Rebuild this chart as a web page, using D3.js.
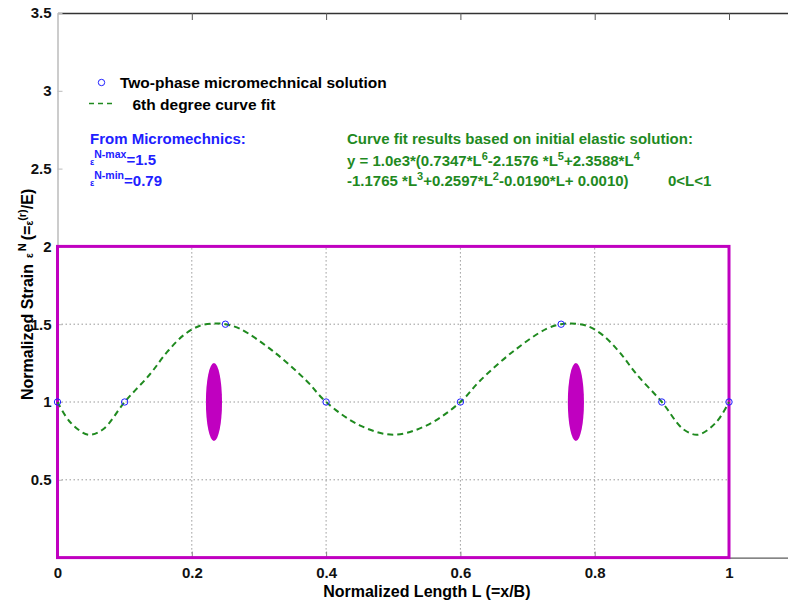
<!DOCTYPE html>
<html>
<head>
<meta charset="utf-8">
<script src="https://cdn.jsdelivr.net/npm/d3@7"></script>
<style>
  body { margin: 0; background: #fff; }
  svg { display: block; font-family: "Liberation Sans", Arial, sans-serif; font-weight: bold; }
</style>
</head>
<body>
<script>
// Micromechanical solution points
const pointL = [0, 0.1, 0.25, 0.4, 0.6, 0.75, 0.9, 1];
const pointY = [1, 1, 1.5, 1, 1, 1.5, 1, 1];

// 6th degree curve fit
const fitL = [0, 0.019, 0.046, 0.068, 0.1, 0.138, 0.163, 0.188, 0.212, 0.235, 0.25, 0.272, 0.32, 0.37, 0.4, 0.45, 0.5,
  0.55, 0.6, 0.63, 0.68, 0.728, 0.75, 0.765, 0.788, 0.812, 0.837, 0.862, 0.9, 0.932, 0.954, 0.981, 1];
const fitY = [1, 0.87, 0.79, 0.825, 1, 1.18, 1.32, 1.43, 1.49, 1.505, 1.5, 1.47, 1.33, 1.14, 1, 0.85, 0.79,
  0.85, 1, 1.14, 1.33, 1.47, 1.5, 1.505, 1.49, 1.43, 1.32, 1.18, 1, 0.825, 0.79, 0.87, 1];

// magenta ellipses (centre and half sizes in data units)
const ellipseL = [0.233, 0.772];
const ellipseY = [1, 1];
const ellipseRL = [0.012, 0.012];
const ellipseRY = [0.25, 0.25];

// highlighted box
const boxL = [0, 1];
const boxY = [0, 2];

const xTicks = [0, 0.2, 0.4, 0.6, 0.8, 1];
const xTickLabels = ["0", "0.2", "0.4", "0.6", "0.8", "1"];
const yTicks = [0.5, 1, 1.5, 2, 2.5, 3, 3.5];
const yTickLabels = ["0.5", "1", "1.5", "2", "2.5", "3", "3.5"];

const width = 788, height = 602;
const magenta = "#c000c0", green = "#1f8a1f", blue = "#2020ff";

const svg = d3.select("body").append("svg")
  .attr("width", width)
  .attr("height", height);

const x = d3.scaleLinear().domain([0, 1.1]).range([57.5, 57.5 + 671.5 * 1.1]);
const y = d3.scaleLinear().domain([0, 3.5]).range([557.6, 13]);

// grid lines, only inside the box
const grid = svg.append("g").attr("stroke", "#999").attr("stroke-dasharray", "1.5,2.5").attr("stroke-width", 1);
grid.selectAll("line.gx").data([0.2, 0.4, 0.6, 0.8]).enter().append("line")
  .attr("x1", d => x(d)).attr("x2", d => x(d))
  .attr("y1", y(0)).attr("y2", y(2));
grid.selectAll("line.gy").data([0.5, 1, 1.5]).enter().append("line")
  .attr("x1", x(0)).attr("x2", x(1))
  .attr("y1", d => y(d)).attr("y2", d => y(d));

// axes
const xAxis = svg.append("g")
  .attr("transform", `translate(0,${y(0)})`)
  .call(d3.axisBottom(x).tickValues(xTicks).tickFormat((d, i) => xTickLabels[i])
    .tickSizeInner(-6).tickSizeOuter(0).tickPadding(10));
xAxis.select(".domain").attr("stroke", "#333");
xAxis.selectAll(".tick line").attr("stroke", "#888");
xAxis.selectAll(".tick text").attr("font-size", 15).attr("fill", "#111").attr("font-family", null);

const topAxis = svg.append("g")
  .attr("transform", `translate(0,${y(3.5)})`)
  .call(d3.axisTop(x).tickValues([0.2, 0.4, 0.6, 0.8, 1]).tickFormat("")
    .tickSizeInner(-7).tickSizeOuter(0));
topAxis.select(".domain").attr("stroke", "#333").attr("stroke-width", 1.5);
topAxis.selectAll(".tick line").attr("stroke", "#555");

const yAxis = svg.append("g")
  .attr("transform", `translate(${x(0)},0)`)
  .call(d3.axisLeft(y).tickValues(yTicks).tickFormat((d, i) => yTickLabels[i])
    .tickSizeInner(-5).tickSizeOuter(0).tickPadding(6));
yAxis.select(".domain").attr("stroke", "#bbb").attr("stroke-width", 1.5);
yAxis.selectAll(".tick line").attr("stroke", "#bbb");
yAxis.selectAll(".tick text").attr("font-size", 15).attr("fill", "#111").attr("font-family", null);

// magenta box
svg.append("rect")
  .attr("x", x(boxL[0])).attr("y", y(boxY[1]))
  .attr("width", x(boxL[1]) - x(boxL[0]))
  .attr("height", y(boxY[0]) - y(boxY[1]))
  .attr("fill", "none").attr("stroke", magenta).attr("stroke-width", 3);

// ellipses
svg.selectAll("ellipse").data(ellipseL).enter().append("ellipse")
  .attr("cx", d => x(d))
  .attr("cy", (d, i) => y(ellipseY[i]))
  .attr("rx", (d, i) => x(ellipseRL[i]) - x(0))
  .attr("ry", (d, i) => y(0) - y(ellipseRY[i]))
  .attr("fill", magenta);

// fitted curve
const line = d3.line()
  .x((d, i) => x(fitL[i]))
  .y((d, i) => y(fitY[i]))
  .curve(d3.curveCatmullRom.alpha(0.5));
svg.append("path")
  .attr("d", line(fitL))
  .attr("fill", "none")
  .attr("stroke", green)
  .attr("stroke-width", 2)
  .attr("stroke-dasharray", "6,4");

// micromechanical points
svg.selectAll("circle.pt").data(pointL).enter().append("circle")
  .attr("class", "pt")
  .attr("cx", d => x(d))
  .attr("cy", (d, i) => y(pointY[i]))
  .attr("r", 3.2)
  .attr("fill", "none")
  .attr("stroke", blue)
  .attr("stroke-width", 1);

// legend
svg.append("circle").attr("cx", 101.5).attr("cy", 82.5).attr("r", 3.2)
  .attr("fill", "none").attr("stroke", blue);
svg.append("text").attr("x", 120).attr("y", 88).attr("font-size", 15.5)
  .text("Two-phase micromechnical solution");
svg.append("line").attr("x1", 89).attr("x2", 115).attr("y1", 103.5).attr("y2", 103.5)
  .attr("stroke", green).attr("stroke-width", 1.5).attr("stroke-dasharray", "5,4");
svg.append("text").attr("x", 132.5).attr("y", 110).attr("font-size", 15.5)
  .text("6th degree curve fit");

// blue annotation
const blueText = svg.append("g").attr("fill", blue).attr("font-size", 15);
blueText.append("text").attr("x", 90).attr("y", 144).text("From Micromechnics:");
const t1 = blueText.append("text").attr("x", 90).attr("y", 165);
t1.append("tspan").attr("font-size", 9).text("ε");
t1.append("tspan").attr("font-size", 10.5).attr("dy", -7).text("N-max");
t1.append("tspan").attr("dy", 7).text("=1.5");
const t2 = blueText.append("text").attr("x", 90).attr("y", 186);
t2.append("tspan").attr("font-size", 9).text("ε");
t2.append("tspan").attr("font-size", 10.5).attr("dy", -7).text("N-min");
t2.append("tspan").attr("dy", 7).text("=0.79");

// green annotation
const greenText = svg.append("g").attr("fill", green).attr("font-size", 15);
greenText.append("text").attr("x", 347).attr("y", 144).text("Curve fit results based on initial elastic solution:");
const g1 = greenText.append("text").attr("x", 347).attr("y", 166);
[["y = 1.0e3*(0.7347*L", false], ["6", true], ["-2.1576 *L", false], ["5", true], ["+2.3588*L", false], ["4", true]]
  .forEach(([s, sup]) => {
    g1.append("tspan").attr("font-size", sup ? 11 : 15)
      .attr("baseline-shift", sup ? "55%" : null).text(s);
  });
const g2 = greenText.append("text").attr("x", 347).attr("y", 186);
[["-1.1765 *L", false], ["3", true], ["+0.2597*L", false], ["2", true], ["-0.0190*L+ 0.0010)", false]]
  .forEach(([s, sup]) => {
    g2.append("tspan").attr("font-size", sup ? 11 : 15)
      .attr("baseline-shift", sup ? "55%" : null).text(s);
  });
greenText.append("text").attr("x", 668).attr("y", 186).text("0<L<1");

// axis labels
svg.append("text")
  .attr("x", x(0.55)).attr("y", 597)
  .attr("text-anchor", "middle").attr("font-size", 16)
  .text("Normalized Length L (=x/B)");

const yl = svg.append("text")
  .attr("transform", "translate(33,400) rotate(-90)")
  .attr("text-anchor", "start").attr("font-size", 16);
yl.append("tspan").text("Normalized Strain");
yl.append("tspan").attr("font-size", 10).attr("dx", 6).text("ε");
yl.append("tspan").attr("font-size", 11).attr("dx", 2).attr("baseline-shift", "65%").text("N");
yl.append("tspan").attr("dx", 3).text("(=");
yl.append("tspan").attr("font-size", 10).text("ε");
yl.append("tspan").attr("font-size", 11).attr("baseline-shift", "65%").text("(r)");
yl.append("tspan").text("/E)");
</script>
</body>
</html>
